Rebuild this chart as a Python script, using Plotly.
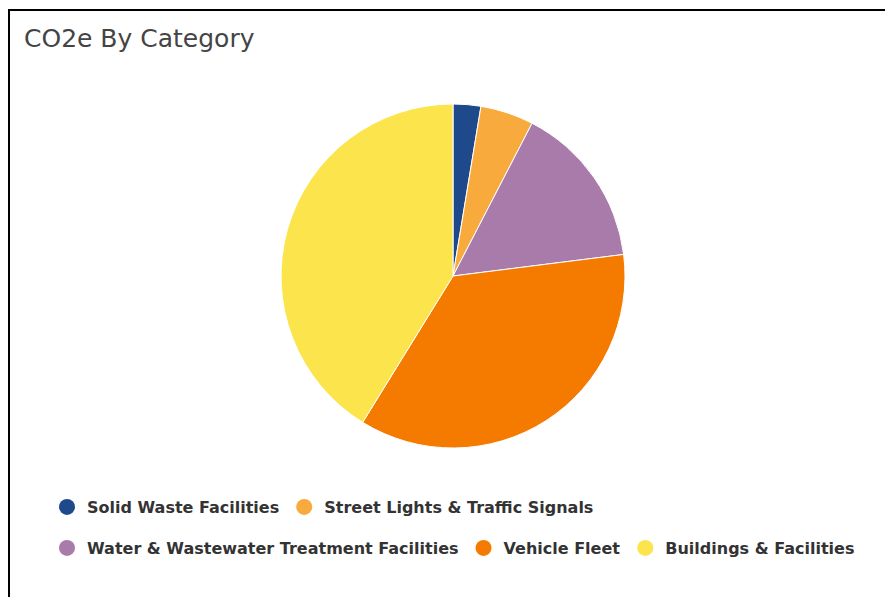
import plotly.graph_objects as go

categories = ["Solid Waste Facilities", "Street Lights & Traffic Signals",
              "Water & Wastewater Treatment Facilities", "Vehicle Fleet",
              "Buildings & Facilities"]
values = [2.6, 5.0, 15.4, 35.8, 41.2]
colors = ["#1E4A8B", "#F9AA3C", "#A97BAA", "#F47B00", "#FBE44C"]
legend_rows = ["legend", "legend", "legend2", "legend2", "legend2"]

W, H = 885, 597

fig = go.Figure()
fig.add_trace(go.Pie(
    labels=categories, values=values, sort=False, direction="clockwise",
    rotation=0, marker=dict(colors=colors, line=dict(color="white", width=1)),
    textinfo="none", showlegend=False,
    domain=dict(x=[281 / W, 625 / W], y=[1 - 448 / H, 1 - 104 / H]),
))
for name, col, lg in zip(categories, colors, legend_rows):
    fig.add_trace(go.Scatter(
        x=[None], y=[None], mode="markers", name=name, legend=lg,
        marker=dict(symbol="circle", size=16, color=col), showlegend=True,
    ))

legend_font = dict(family="DejaVu Sans", size=16, color="#333333", weight="bold")
fig.update_layout(
    width=W, height=H, margin=dict(l=0, r=0, t=0, b=0),
    paper_bgcolor="white", plot_bgcolor="white",
    xaxis=dict(visible=False), yaxis=dict(visible=False),
    legend=dict(orientation="h", x=47 / W, y=1 - 507 / H, xanchor="left",
                yanchor="middle", font=legend_font, bgcolor="rgba(0,0,0,0)",
                itemclick=False),
    legend2=dict(orientation="h", x=47 / W, y=1 - 548 / H, xanchor="left",
                 yanchor="middle", font=legend_font, bgcolor="rgba(0,0,0,0)",
                 itemclick=False),
    annotations=[dict(text="CO2e By Category", x=22 / W, y=1 - 39 / H,
                      xref="paper", yref="paper", xanchor="left", yanchor="middle",
                      showarrow=False,
                      font=dict(family="DejaVu Sans", size=25, color="#444444"))],
    shapes=[
        dict(type="line", xref="paper", yref="paper", x0=8 / W, x1=1,
             y0=1 - 10 / H, y1=1 - 10 / H, line=dict(color="black", width=2)),
        dict(type="line", xref="paper", yref="paper", x0=9 / W, x1=9 / W,
             y0=0, y1=1 - 9 / H, line=dict(color="black", width=2)),
    ],
)
fig.write_html("out.html")
